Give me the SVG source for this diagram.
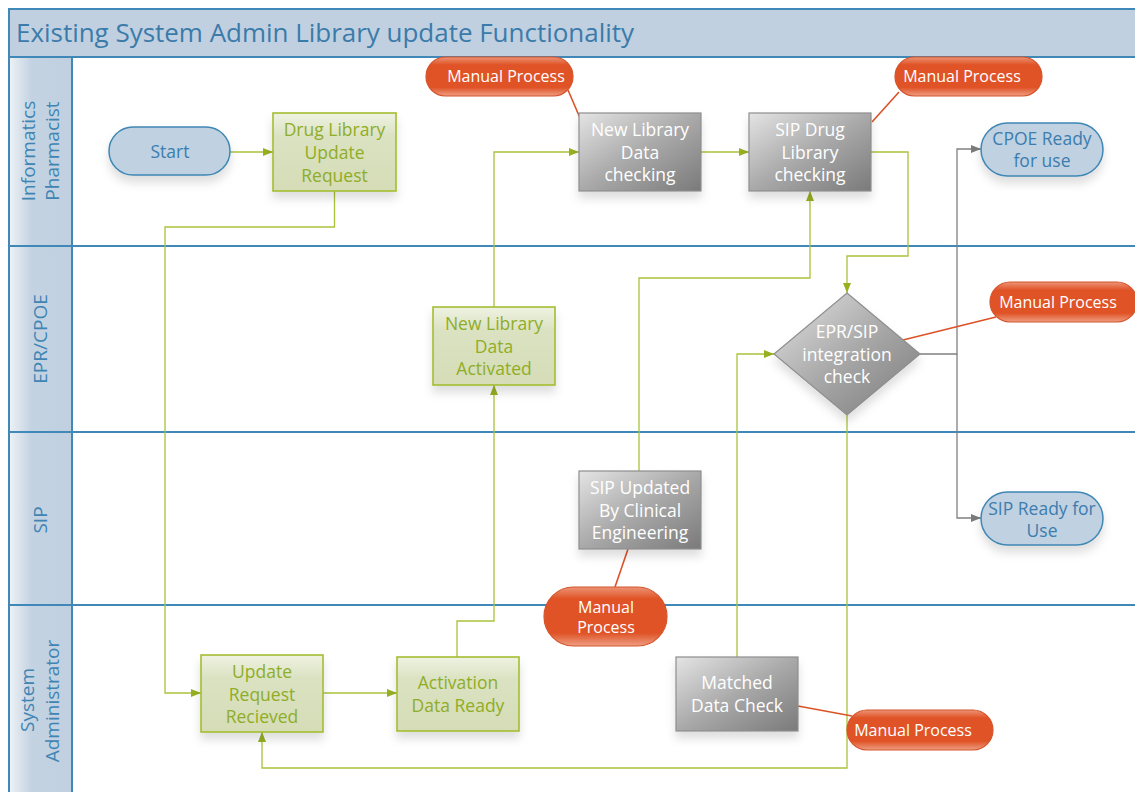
<svg xmlns="http://www.w3.org/2000/svg" width="1135" height="792" viewBox="0 0 1135 792">
<style>
text{font-family:"Open Sans","Noto Sans","Liberation Sans",sans-serif;text-anchor:middle}
.lane{stroke:#3F88B8;stroke-width:2;fill:none}
.lbl{font-size:19px;fill:#3F85B4}
.title{font-size:26px;fill:#3B7BAA;text-anchor:start}
.blue{fill:#C0D1E1;stroke:#3F87B4;stroke-width:1.5}
.btx{font-size:17.5px;fill:#3C7DAF}
.green{fill:url(#gg);stroke:#A3BD31;stroke-width:1.6}
.gtx{font-size:17.5px;fill:#8FAD26}
.gray{fill:url(#gr);stroke:#8E8E8E;stroke-width:1.2}
.wtx{font-size:17.5px;fill:#FFFFFF}
.mp{fill:url(#og);stroke:#D4542C;stroke-width:1.2}
.mtx{font-size:16px;fill:#FFFFFF}
.cg{fill:none;stroke:#A9C23A;stroke-width:1.3}
.cgr{fill:none;stroke:#808080;stroke-width:1.3}
.co{fill:none;stroke:#DC5227;stroke-width:1.6}
.sh{filter:url(#sh)}
</style>
<defs>
<linearGradient id="hdr" x1="0" y1="0" x2="1" y2="0">
<stop offset="0" stop-color="#EEF2F6"/><stop offset="0.35" stop-color="#C4D3E2"/><stop offset="1" stop-color="#C0D0E0"/>
</linearGradient>
<linearGradient id="gg" x1="0" y1="0" x2="0" y2="1">
<stop offset="0" stop-color="#EFF2E2"/><stop offset="0.3" stop-color="#DBE2C2"/><stop offset="1" stop-color="#D5DCB6"/>
</linearGradient>
<linearGradient id="gr" x1="0" y1="0" x2="1" y2="1">
<stop offset="0" stop-color="#E4E4E4"/><stop offset="0.5" stop-color="#A9A9A9"/><stop offset="1" stop-color="#7A7A7A"/>
</linearGradient>
<linearGradient id="og" x1="0" y1="0" x2="0" y2="1">
<stop offset="0" stop-color="#EC9476"/><stop offset="0.2" stop-color="#E05326"/><stop offset="0.78" stop-color="#E05326"/><stop offset="1" stop-color="#EE9E83"/>
</linearGradient>
<filter id="sh" x="-20%" y="-20%" width="140%" height="170%">
<feDropShadow dx="0" dy="7" stdDeviation="5" flood-color="#000" flood-opacity="0.13"/>
</filter>
<marker id="ag" viewBox="0 0 10 8" refX="10" refY="4" markerWidth="10" markerHeight="8" markerUnits="userSpaceOnUse" orient="auto">
<path d="M0,0 L10,4 L0,8 Z" fill="#96B021"/>
</marker>
<marker id="agr" viewBox="0 0 10 8" refX="10" refY="4" markerWidth="10" markerHeight="8" markerUnits="userSpaceOnUse" orient="auto">
<path d="M0,0 L10,4 L0,8 Z" fill="#7A7A7A"/>
</marker>
</defs>

<g id="pool">
<rect x="0" y="0" width="1135" height="792" fill="#FFFFFF"/>
<rect x="9" y="9" width="1130" height="48" fill="#C0D0E0" stroke="#3F88B8" stroke-width="2"/>
<text class="title" x="16" y="42" textLength="618">Existing System Admin Library update Functionality</text>
<rect x="9" y="57" width="63" height="740" fill="url(#hdr)" stroke="#3F88B8" stroke-width="2"/>
<line class="lane" x1="9" y1="246" x2="1135" y2="246"/>
<line class="lane" x1="9" y1="432" x2="1135" y2="432"/>
<line class="lane" x1="9" y1="605" x2="1135" y2="605"/>
<line class="lane" x1="9" y1="57" x2="1135" y2="57"/>
<text class="lbl" transform="translate(34.5,151) rotate(-90)">Informatics</text>
<text class="lbl" transform="translate(59,151) rotate(-90)">Pharmacist</text>
<text class="lbl" transform="translate(47,339) rotate(-90)">EPR/CPOE</text>
<text class="lbl" transform="translate(46.5,520) rotate(-90)">SIP</text>
<text class="lbl" transform="translate(34,700) rotate(-90)">System</text>
<text class="lbl" transform="translate(59,701) rotate(-90)">Administrator</text>
</g>

<g id="connectors">
<path class="cg" d="M230,152 H273" marker-end="url(#ag)"/>
<path class="cg" d="M334.5,191 V227 H165 V693 H201" marker-end="url(#ag)"/>
<path class="cg" d="M323,693 H397" marker-end="url(#ag)"/>
<path class="cg" d="M457,657 V621 H494 V385" marker-end="url(#ag)"/>
<path class="cg" d="M494,307 V152 H579" marker-end="url(#ag)"/>
<path class="cg" d="M701,152 H749" marker-end="url(#ag)"/>
<path class="cg" d="M871,152 H908 V256 H847 V293" marker-end="url(#ag)"/>
<path class="cg" d="M639,471 V278 H810 V191" marker-end="url(#ag)"/>
<path class="cg" d="M737,657 V354 H774" marker-end="url(#ag)"/>
<path class="cg" d="M847,415 V768 H262 V732" marker-end="url(#ag)"/>
<path class="cgr" d="M920,354 H957 V149 H981" marker-end="url(#agr)"/>
<path class="cgr" d="M957,354 V518 H981" marker-end="url(#agr)"/>
<path class="co" d="M568,90 L580,118"/>
<path class="co" d="M899,92 L872,122"/>
<path class="co" d="M996,317 L903,340"/>
<path class="co" d="M628,549 L615,587"/>
<path class="co" d="M798,706 L852,716"/>
</g>

<g id="start">
<rect class="blue sh" x="109" y="127" width="121" height="48" rx="24"/>
<text class="btx" x="170" y="158">Start</text>
</g>
<g id="drug-library-update-request">
<rect class="green sh" x="273" y="113" width="123" height="78"/>
<text class="gtx" x="334.5" y="136">Drug Library</text>
<text class="gtx" x="334.5" y="159">Update</text>
<text class="gtx" x="334.5" y="182">Request</text>
</g>
<g id="new-library-data-checking">
<rect class="gray sh" x="579" y="113" width="122" height="78"/>
<text class="wtx" x="640" y="136">New Library</text>
<text class="wtx" x="640" y="158.5">Data</text>
<text class="wtx" x="640" y="181">checking</text>
</g>
<g id="sip-drug-library-checking">
<rect class="gray sh" x="749" y="113" width="122" height="78"/>
<text class="wtx" x="810" y="136">SIP Drug</text>
<text class="wtx" x="810" y="158.5">Library</text>
<text class="wtx" x="810" y="181">checking</text>
</g>
<g id="cpoe-ready">
<rect class="blue sh" x="981" y="123" width="122" height="53" rx="26.5"/>
<text class="btx" x="1042" y="145">CPOE Ready</text>
<text class="btx" x="1042" y="167">for use</text>
</g>
<g id="manual-process-1">
<rect class="mp" x="426" y="57" width="147" height="39" rx="19.5"/>
<text class="mtx" x="506" y="82">Manual Process</text>
</g>
<g id="manual-process-2">
<rect class="mp" x="895" y="57" width="147" height="39" rx="19.5"/>
<text class="mtx" x="962" y="82">Manual Process</text>
</g>
<g id="new-library-data-activated">
<rect class="green sh" x="433" y="307" width="122" height="78"/>
<text class="gtx" x="494" y="330">New Library</text>
<text class="gtx" x="494" y="352.5">Data</text>
<text class="gtx" x="494" y="375">Activated</text>
</g>
<g id="epr-sip-integration-check">
<path class="gray sh" d="M847,293 L920,354 L847,415 L774,354 Z"/>
<text class="wtx" x="847" y="338">EPR/SIP</text>
<text class="wtx" x="847" y="360.5">integration</text>
<text class="wtx" x="847" y="383">check</text>
</g>
<g id="manual-process-3">
<rect class="mp" x="990" y="282" width="147" height="40" rx="20"/>
<text class="mtx" x="1058" y="308">Manual Process</text>
</g>
<g id="sip-updated">
<rect class="gray sh" x="579" y="471" width="122" height="78"/>
<text class="wtx" x="640" y="494">SIP Updated</text>
<text class="wtx" x="640" y="516.5">By Clinical</text>
<text class="wtx" x="640" y="539">Engineering</text>
</g>
<g id="manual-process-4">
<rect class="mp" x="544" y="587" width="123" height="59" rx="29.5"/>
<text class="mtx" x="606" y="613">Manual</text>
<text class="mtx" x="606" y="633">Process</text>
</g>
<g id="sip-ready">
<rect class="blue sh" x="981" y="492" width="122" height="53" rx="26.5"/>
<text class="btx" x="1042" y="515">SIP Ready for</text>
<text class="btx" x="1042" y="537">Use</text>
</g>
<g id="update-request-recieved">
<rect class="green sh" x="201" y="655" width="122" height="77"/>
<text class="gtx" x="262" y="678">Update</text>
<text class="gtx" x="262" y="700.5">Request</text>
<text class="gtx" x="262" y="723">Recieved</text>
</g>
<g id="activation-data-ready">
<rect class="green sh" x="397" y="657" width="122" height="74"/>
<text class="gtx" x="458" y="689">Activation</text>
<text class="gtx" x="458" y="712">Data Ready</text>
</g>
<g id="matched-data-check">
<rect class="gray sh" x="676" y="657" width="122" height="74"/>
<text class="wtx" x="737" y="689">Matched</text>
<text class="wtx" x="737" y="712">Data Check</text>
</g>
<g id="manual-process-5">
<rect class="mp" x="847" y="710" width="146" height="40" rx="20"/>
<text class="mtx" x="913" y="736">Manual Process</text>
</g>
</svg>
